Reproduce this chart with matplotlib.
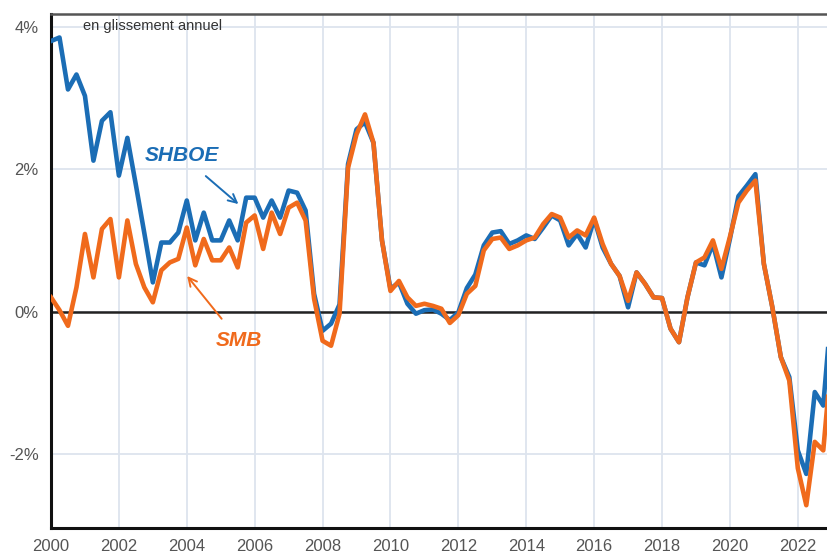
import numpy as np
import pandas as pd
import matplotlib
matplotlib.use('Agg')
import matplotlib.pyplot as plt

plt.rcParams['font.family'] = ['Liberation Sans', 'DejaVu Sans']

# trimestres 2000T1 -> 2023T1
quarters = pd.period_range('2000Q1', '2023Q1', freq='Q')

# SHBOE, en glissement annuel (%)
shboe = [3.80, 3.85, 3.12, 3.33,
         3.03, 2.12, 2.68, 2.80,
         1.91, 2.44, 1.78, 1.10,
         0.41, 0.97, 0.97, 1.11,
         1.56, 1.00, 1.39, 1.00,
         1.00, 1.28, 1.00, 1.60,
         1.60, 1.32, 1.56, 1.32,
         1.70, 1.67, 1.42, 0.25,
         -0.27, -0.17, 0.10, 2.07,
         2.56, 2.66, 2.37, 1.00,
         0.32, 0.41, 0.11, -0.03,
         0.02, 0.03, -0.03, -0.12,
         -0.01, 0.33, 0.52, 0.93,
         1.11, 1.13, 0.95, 1.00,
         1.07, 1.02, 1.18, 1.35,
         1.28, 0.93, 1.09, 0.90,
         1.30, 0.90, 0.67, 0.50,
         0.06, 0.55, 0.39, 0.20,
         0.19, -0.24, -0.43, 0.20,
         0.69, 0.65, 0.95, 0.48,
         1.02, 1.62, 1.77, 1.93,
         0.67, 0.06, -0.64, -0.92,
         -1.95, -2.28, -1.13, -1.32,
         0.10]

# SMB, en glissement annuel (%)
smb = [0.20, 0.02, -0.20, 0.34,
       1.09, 0.48, 1.16, 1.30,
       0.48, 1.28, 0.67, 0.34,
       0.13, 0.58, 0.69, 0.74,
       1.18, 0.65, 1.02, 0.72,
       0.72, 0.90, 0.62, 1.25,
       1.35, 0.88, 1.39, 1.09,
       1.46, 1.53, 1.28, 0.18,
       -0.41, -0.48, -0.03, 2.02,
       2.49, 2.77, 2.37, 1.00,
       0.29, 0.43, 0.20, 0.08,
       0.11, 0.08, 0.04, -0.16,
       -0.05, 0.25, 0.36, 0.86,
       1.02, 1.04, 0.88, 0.93,
       1.00, 1.04, 1.23, 1.37,
       1.32, 1.04, 1.14, 1.07,
       1.32, 0.95, 0.67, 0.50,
       0.15, 0.55, 0.39, 0.20,
       0.19, -0.24, -0.43, 0.20,
       0.69, 0.76, 1.00, 0.60,
       1.05, 1.53, 1.70, 1.84,
       0.67, 0.06, -0.64, -0.97,
       -2.20, -2.72, -1.83, -1.95,
       -0.60]

year_ticks = list(range(2000, 2023, 2))
pct_ticks = [-2, 0, 2, 4]
pct_labels = ['-2%', '0%', '2%', '4%']

blue = '#1b6db5'
orange = '#f06a1c'

x = quarters.year + (quarters.quarter - 1) / 4

fig = plt.figure(figsize=(8.27, 5.53), dpi=100)
# cadre : de x=51 px au bord droit, de y=14 à y=528 px
ax = fig.add_axes([51 / 827, 25 / 553, 1 - 51 / 827, (528 - 14) / 553])
ax.set_xlim(2000, 2022.86)
ax.set_ylim(-3.04, 4.18)

ax.set_xticks(year_ticks)
ax.set_xticklabels([str(y) for y in year_ticks])
ax.set_yticks(pct_ticks)
ax.set_yticklabels(pct_labels)
ax.tick_params(length=0, labelsize=12, labelcolor='#555555', pad=8)
ax.tick_params(axis='y', pad=9)

ax.grid(True, color='#dde4ee', linewidth=1.3)
ax.set_axisbelow(True)
ax.axhline(0, color='#222222', linewidth=1.8, zorder=2)

for s in ['left', 'bottom']:
    ax.spines[s].set_color('#111111')
    ax.spines[s].set_linewidth(2.2)
ax.spines['top'].set_color('#555555')
ax.spines['top'].set_linewidth(1.8)
ax.spines['right'].set_visible(False)

ax.plot(x, shboe, color=blue, linewidth=3.3, solid_joinstyle='round', zorder=3)
ax.plot(x, smb, color=orange, linewidth=3.3, solid_joinstyle='round', zorder=4)

ax.text(2000.95, 4.01, 'en glissement annuel', fontsize=10.5, color='#333333',
        va='center', ha='left')

ax.annotate('SHBOE', xy=(2005.52, 1.51), xytext=(2003.86, 2.19),
            fontsize=15, fontweight='bold', fontstyle='italic', color=blue,
            ha='center', va='center',
            arrowprops=dict(arrowstyle='->', color=blue, lw=1.4,
                            shrinkA=9, shrinkB=0))
ax.annotate('SMB', xy=(2004.01, 0.50), xytext=(2005.55, -0.41),
            fontsize=15, fontweight='bold', fontstyle='italic', color=orange,
            ha='center', va='center',
            arrowprops=dict(arrowstyle='->', color=orange, lw=1.4,
                            shrinkA=9, shrinkB=0))

fig.savefig('out.png', dpi=100)
